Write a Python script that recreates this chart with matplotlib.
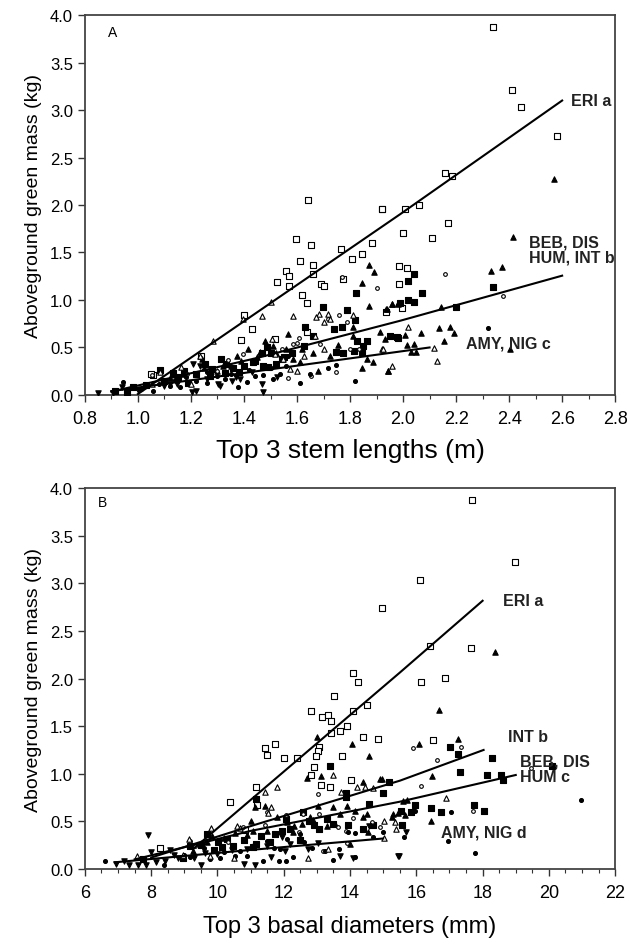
import numpy as np
import matplotlib
matplotlib.use('Agg')
import matplotlib.pyplot as plt
from matplotlib.ticker import MultipleLocator, FormatStrFormatter

plt.rcParams['font.family'] = ['Liberation Sans', 'DejaVu Sans']

# ---- Panel A: top 3 stem lengths (m) vs green mass (kg)
a_osq_x = [1.055, 1.05, 1.236, 1.39, 1.40, 1.43, 1.517, 1.523, 1.559, 1.571, 1.571, 1.596, 1.613, 1.619,
           1.636, 1.639, 1.643, 1.653, 1.659, 1.659, 1.69, 1.70, 1.766, 1.775, 1.806, 1.846, 1.883, 1.92,
           1.936, 1.986, 1.986, 1.995, 1.999, 2.007, 2.014, 1.919, 2.06, 2.11, 2.16, 2.171, 2.186, 2.341,
           2.412, 2.446, 2.582]
a_osq_y = [0.21, 0.22, 0.41, 0.58, 0.84, 0.69, 0.59, 1.19, 1.30, 1.25, 1.15, 1.64, 1.41, 1.05,
           0.66, 0.97, 2.05, 1.58, 1.37, 1.27, 1.17, 1.15, 1.54, 1.22, 1.43, 1.48, 1.60, 1.96,
           0.87, 1.36, 1.17, 0.92, 1.71, 1.96, 1.34, 1.96, 2.0, 1.65, 2.34, 1.81, 2.31, 3.87,
           3.21, 3.03, 2.73]

a_ftri_x = [1.873, 1.891, 1.844, 1.873, 1.938, 1.96, 1.98, 1.913, 1.932, 1.945, 1.846, 1.886, 1.863,
            1.813, 1.813, 1.756, 1.725, 1.68, 1.662, 1.618, 1.567, 1.48, 1.416, 1.24, 1.373, 1.511,
            1.586, 1.46, 1.61, 2.416, 2.33, 2.375, 1.957, 1.98, 1.936, 2.143, 2.137, 2.177, 2.194,
            2.156, 2.066, 2.007, 2.014, 2.043, 2.03, 2.05, 1.944, 2.404, 2.568, 1.12, 1.17, 1.30, 1.35,
            1.25, 1.32, 1.39, 1.45, 1.52, 1.56]
a_ftri_y = [1.368, 1.298, 1.179, 0.933, 0.905, 0.958, 0.965, 0.667, 0.59, 0.256, 0.28, 0.35, 0.379,
            0.719, 0.624, 0.526, 0.414, 0.256, 0.442, 0.484, 0.642, 0.572, 0.484, 0.379, 0.414, 0.519,
            0.379, 0.449, 0.344, 1.66, 1.30, 1.35, 0.96, 0.96, 0.905, 0.93, 0.70, 0.72, 0.65,
            0.57, 0.65, 0.635, 0.53, 0.54, 0.455, 0.455, 0.256, 0.483, 2.27, 0.18, 0.22, 0.25, 0.30,
            0.28, 0.31, 0.36, 0.40, 0.44, 0.48]

a_fsq_x = [1.699, 1.79, 1.821, 1.819, 1.769, 1.741, 1.63, 1.662, 1.626, 1.485, 1.467, 1.50, 1.542,
           1.492, 1.435, 1.332, 1.312, 1.253, 1.175, 1.131, 1.083, 1.747, 1.775, 1.815, 1.85, 1.863,
           1.825, 1.844, 1.98, 0.982, 0.913, 0.957, 2.043, 2.02, 2.073, 2.017, 2.043, 1.988, 2.34,
           2.2, 1.976, 1.95, 1.27, 1.38, 1.10, 1.15, 1.22, 1.28, 1.33, 1.36, 1.40, 1.44, 1.47, 1.52,
           1.55, 1.58, 1.19, 1.03]
a_fsq_y = [0.923, 0.895, 1.07, 0.79, 0.712, 0.695, 0.719, 0.624, 0.519, 0.502, 0.442, 0.44, 0.379,
           0.291, 0.344, 0.326, 0.379, 0.326, 0.256, 0.228, 0.267, 0.449, 0.442, 0.466, 0.519, 0.572,
           0.572, 0.449, 0.60, 0.08, 0.045, 0.035, 1.27, 1.20, 1.07, 1.00, 0.975, 0.97, 1.14,
           0.93, 0.607, 0.62, 0.20, 0.24, 0.15, 0.19, 0.22, 0.27, 0.23, 0.28, 0.30, 0.36, 0.30, 0.33,
           0.40, 0.44, 0.13, 0.10]

a_ocir_x = [1.76, 1.787, 1.903, 1.771, 1.586, 1.60, 1.652, 1.747, 1.567, 1.80, 1.835, 1.395, 1.341,
            1.297, 1.184, 1.052, 1.609, 1.542, 1.687, 1.718, 2.158, 2.378]
a_ocir_y = [0.842, 0.772, 1.123, 1.238, 0.537, 0.55, 0.203, 0.238, 0.179, 0.484, 0.484, 0.428, 0.368,
            0.256, 0.221, 0.21, 0.596, 0.484, 0.537, 0.80, 1.27, 1.04]

a_fcir_x = [1.611, 1.817, 1.716, 1.746, 1.649, 1.536, 1.511, 1.379, 1.41, 1.297, 1.259, 1.181, 1.121,
            0.945, 0.982, 1.159, 1.058, 1.567, 2.322, 1.33, 1.44, 1.22, 1.08, 1.14, 1.26, 1.35, 1.42,
            1.47, 1.50, 1.56, 1.01]
a_fcir_y = [0.123, 0.151, 0.281, 0.316, 0.221, 0.221, 0.168, 0.08, 0.14, 0.203, 0.126, 0.186, 0.098,
            0.14, 0.091, 0.08, 0.045, 0.414, 0.71, 0.17, 0.20, 0.15, 0.12, 0.16, 0.24, 0.22, 0.26,
            0.21, 0.28, 0.30, 0.06]

a_otri_x = [1.501, 1.586, 1.467, 1.398, 1.284, 1.162, 1.083, 1.052, 1.718, 1.684, 1.672, 1.666, 1.702,
            1.725, 1.813, 1.702, 1.599, 1.574, 1.505, 1.517, 1.627, 1.549, 1.234, 1.199, 1.92, 1.96,
            2.017, 2.117, 2.129, 1.925]
a_otri_y = [0.975, 0.828, 0.835, 0.80, 0.572, 0.298, 0.238, 0.116, 0.853, 0.853, 0.818, 0.624, 0.765,
            0.80, 0.842, 0.484, 0.256, 0.274, 0.59, 0.431, 0.414, 0.379, 0.414, 0.116, 0.484, 0.309,
            0.72, 0.495, 0.355, 0.48]

a_dtri_x = [0.85, 0.907, 0.938, 1.473, 1.467, 1.203, 1.219, 1.303, 1.353, 1.209, 1.234, 1.259, 1.098,
            1.146, 1.385, 1.429, 1.523, 1.31, 1.12, 1.27, 1.37, 1.00]
a_dtri_y = [0.02, 0.017, 0.08, 0.035, 0.116, 0.035, 0.045, 0.116, 0.151, 0.326, 0.309, 0.168, 0.098,
            0.116, 0.168, 0.238, 0.186, 0.098, 0.12, 0.21, 0.19, 0.05]

# fitted curves, panel A
a_eri_x = [1.0, 1.99, 2.6]
a_eri_y = [0.01, 1.905, 3.10]
a_beb_x = [0.9, 1.45, 1.99, 2.6]
a_beb_y = [0.035, 0.39, 0.782, 1.256]
a_amy_x = [0.9, 1.5, 2.1]
a_amy_y = [0.04, 0.27, 0.50]

# ---- Panel B: top 3 basal diameters (mm) vs green mass (kg)
b_osq_x = [14.1, 14.25, 13.53, 12.82, 13.16, 13.35, 13.43, 14.1, 14.5, 13.9, 13.70, 14.40, 14.83,
           13.42, 13.06, 13.03, 12.97, 13.77, 11.43, 11.74, 11.5, 12.0, 12.4, 12.92, 12.83, 13.13,
           13.41, 14.03, 11.16, 10.37, 11.2, 8.27, 10.83, 17.69, 18.98, 16.11, 14.96, 16.4, 17.65,
           16.13, 16.87, 16.5]
b_osq_y = [2.055, 1.967, 1.816, 1.656, 1.596, 1.617, 1.558, 1.663, 1.726, 1.498, 1.449, 1.386, 1.365,
           1.428, 1.285, 1.239, 1.183, 1.183, 1.267, 1.316, 1.197, 1.166, 1.166, 1.068, 0.987, 0.882,
           0.858, 0.935, 0.858, 0.707, 0.672, 0.224, 0.406, 3.874, 3.22, 3.04, 2.736, 2.344, 2.32,
           1.967, 2.005, 1.358]

b_ftri_x = [12.99, 14.05, 14.57, 12.69, 13.12, 14.4, 14.96, 11.13, 11.43, 11.0, 10.53, 11.79, 12.09,
            13.04, 13.5, 13.9, 14.15, 14.4, 14.5, 13.55, 12.89, 12.54, 12.29, 13.3, 14.0, 14.54,
            15.31, 9.67, 9.27, 9.82, 11.08, 18.38, 16.67, 17.27, 16.09, 16.47, 16.45, 14.9, 15.73,
            15.61, 15.66, 15.46, 15.26, 10.2, 10.9, 11.5, 12.3, 12.8, 13.7]
b_ftri_y = [1.383, 1.313, 1.19, 0.952, 0.973, 0.917, 0.945, 0.648, 0.658, 0.501, 0.378, 0.543, 0.49,
            0.665, 0.648, 0.665, 0.613, 0.543, 0.578, 0.473, 0.518, 0.473, 0.392, 0.455, 0.263, 0.385,
            0.578, 0.28, 0.193, 0.35, 0.403, 2.28, 1.67, 1.365, 1.313, 0.973, 0.50, 0.945, 0.728,
            0.718, 0.567, 0.588, 0.543, 0.33, 0.36, 0.40, 0.45, 0.55, 0.58]

b_fsq_x = [9.69, 10.03, 11.16, 11.94, 12.06, 12.59, 12.77, 13.4, 13.87, 13.88, 14.58, 14.99, 15.19,
           13.07, 13.5, 13.95, 14.4, 14.7, 11.08, 10.48, 10.13, 11.59, 11.74, 12.49, 9.17, 8.97,
           7.76, 11.15, 17.02, 17.27, 18.28, 17.32, 18.13, 18.56, 18.63, 20.09, 17.75, 18.03, 16.44,
           16.74, 15.96, 15.83, 15.53, 15.56, 9.5, 10.3, 10.8, 11.3, 12.2, 12.9, 13.3, 9.9]
b_fsq_y = [0.364, 0.287, 0.263, 0.403, 0.525, 0.595, 0.508, 1.085, 0.798, 0.753, 0.683, 0.798, 0.91,
           0.42, 0.473, 0.462, 0.42, 0.462, 0.228, 0.245, 0.228, 0.287, 0.364, 0.308, 0.245, 0.112,
           0.105, 0.735, 1.285, 1.208, 1.162, 1.015, 0.987, 0.987, 0.938, 1.085, 0.676, 0.613, 0.637,
           0.595, 0.676, 0.595, 0.613, 0.462, 0.25, 0.32, 0.30, 0.35, 0.42, 0.46, 0.52, 0.20]

b_ocir_x = [9.17, 13.02, 13.65, 13.88, 13.06, 13.18, 13.9, 12.07, 11.43, 10.78, 11.49, 12.59, 14.65,
            14.91, 9.32, 10.33, 12.47, 14.1, 15.91, 17.34, 16.62, 16.13, 19.45, 17.72]
b_ocir_y = [0.298, 0.788, 0.438, 0.403, 0.578, 0.193, 0.273, 0.567, 0.466, 0.438, 0.595, 0.578, 0.49,
            0.438, 0.245, 0.28, 0.392, 0.532, 1.267, 1.285, 1.145, 0.868, 1.057, 0.606]

b_fcir_x = [6.6, 8.39, 9.17, 10.08, 10.53, 11.38, 11.87, 12.07, 12.29, 13.48, 13.68, 13.95, 14.15,
            14.99, 11.89, 12.84, 12.09, 12.49, 11.48, 10.68, 9.77, 10.88, 13.25, 14.15, 14.68, 20.97,
            17.05, 16.97, 17.77, 15.96, 15.63, 9.0, 9.6, 10.2, 11.1, 11.7, 12.6]
b_fcir_y = [0.081, 0.042, 0.123, 0.112, 0.133, 0.088, 0.088, 0.088, 0.123, 0.098, 0.21, 0.392, 0.378,
            0.392, 0.21, 0.217, 0.315, 0.368, 0.298, 0.193, 0.105, 0.14, 0.193, 0.123, 0.333, 0.725,
            0.602, 0.29, 0.165, 0.613, 0.34, 0.15, 0.22, 0.18, 0.25, 0.22, 0.28]

b_otri_x = [9.79, 11.43, 11.81, 13.5, 14.2, 14.45, 14.7, 13.72, 11.61, 11.53, 10.58, 10.68, 9.15,
            7.56, 8.97, 9.77, 10.5, 12.74, 13.35, 15.39, 15.03, 16.9, 15.36, 15.03]
b_otri_y = [0.43, 0.812, 0.858, 0.987, 0.865, 0.865, 0.847, 0.812, 0.648, 0.588, 0.455, 0.43, 0.315,
            0.14, 0.147, 0.14, 0.112, 0.112, 0.21, 0.42, 0.508, 0.742, 0.49, 0.322]

b_dtri_x = [7.91, 7.99, 8.57, 9.49, 10.8, 11.13, 11.62, 6.93, 7.34, 7.59, 7.83, 7.19, 8.13, 8.42,
            11.94, 12.04, 12.74, 13.7, 14.1, 15.46, 10.43, 10.88, 11.48, 12.19, 13.04, 14.58, 9.62,
            8.82, 15.49, 15.69, 8.7, 9.3, 10.0]
b_dtri_y = [0.361, 0.175, 0.203, 0.042, 0.053, 0.042, 0.123, 0.053, 0.042, 0.042, 0.042, 0.088, 0.077,
            0.088, 0.333, 0.193, 0.21, 0.133, 0.112, 0.133, 0.203, 0.21, 0.238, 0.263, 0.273, 0.448,
            0.168, 0.112, 0.133, 0.385, 0.15, 0.12, 0.16]

# fitted curves, panel B
b_eri_x = [9.3, 15.51, 18.0]
b_eri_y = [0.22, 2.065, 2.817]
b_int_x = [8.0, 11.0, 15.51, 18.03]
b_int_y = [0.12, 0.45, 0.928, 1.25]
b_hum_x = [7.5, 11.0, 15.51, 19.0]
b_hum_y = [0.10, 0.40, 0.707, 0.987]
b_amy_x = [6.9, 11.0, 15.0]
b_amy_y = [0.07, 0.20, 0.32]

fig = plt.figure(figsize=(6.29, 9.45), dpi=100)
axA = fig.add_axes([0.135, 0.581, 0.843, 0.402])
axB = fig.add_axes([0.135, 0.0794, 0.843, 0.403])


def scatter_groups(ax, groups):
    for x, y, m, fc, s in groups:
        ax.scatter(x, y, marker=m, s=s, facecolors=fc, edgecolors='black', linewidths=0.8, zorder=3)


scatter_groups(axA, [
    (a_osq_x, a_osq_y, 's', 'white', 13),
    (a_ftri_x, a_ftri_y, '^', 'black', 15),
    (a_fsq_x, a_fsq_y, 's', 'black', 13),
    (a_ocir_x, a_ocir_y, 'o', 'white', 7),
    (a_fcir_x, a_fcir_y, 'o', 'black', 8),
    (a_otri_x, a_otri_y, '^', 'white', 15),
    (a_dtri_x, a_dtri_y, 'v', 'black', 15),
])
scatter_groups(axB, [
    (b_osq_x, b_osq_y, 's', 'white', 13),
    (b_ftri_x, b_ftri_y, '^', 'black', 15),
    (b_fsq_x, b_fsq_y, 's', 'black', 13),
    (b_ocir_x, b_ocir_y, 'o', 'white', 7),
    (b_fcir_x, b_fcir_y, 'o', 'black', 8),
    (b_otri_x, b_otri_y, '^', 'white', 15),
    (b_dtri_x, b_dtri_y, 'v', 'black', 15),
])

for x, y in [(a_eri_x, a_eri_y), (a_beb_x, a_beb_y), (a_amy_x, a_amy_y)]:
    axA.plot(x, y, color='black', lw=1.5, zorder=4)
for x, y in [(b_eri_x, b_eri_y), (b_int_x, b_int_y), (b_hum_x, b_hum_y), (b_amy_x, b_amy_y)]:
    axB.plot(x, y, color='black', lw=1.5, zorder=4)

lab = dict(fontsize=11.5, fontweight='bold', color='#222222', va='center', ha='left')
axA.text(2.633, 3.10, 'ERI a', **lab)
axA.text(2.475, 1.53, 'BEB, DIS\nHUM, INT b', linespacing=1.05, **lab)
axA.text(2.238, 0.547, 'AMY, NIG c', **lab)
axB.text(18.61, 2.817, 'ERI a', **lab)
axB.text(18.78, 1.393, 'INT b', **lab)
axB.text(19.13, 1.053, 'BEB, DIS\nHUM c', linespacing=1.0, **lab)
axB.text(16.75, 0.392, 'AMY, NIG d', **lab)

axA.text(0.043, 0.955, 'A', transform=axA.transAxes, fontsize=10, va='center')
axB.text(0.025, 0.963, 'B', transform=axB.transAxes, fontsize=10, va='center')

axA.set_xlim(0.8, 2.8)
axA.xaxis.set_major_locator(MultipleLocator(0.2))
axA.xaxis.set_minor_locator(MultipleLocator(0.1))
axA.xaxis.set_major_formatter(FormatStrFormatter('%.1f'))
axA.set_xlabel('Top 3 stem lengths (m)', fontsize=19, labelpad=8)

axB.set_xlim(6, 22)
axB.xaxis.set_major_locator(MultipleLocator(2))
axB.xaxis.set_minor_locator(MultipleLocator(0.5))
axB.set_xlabel('Top 3 basal diameters (mm)', fontsize=17, labelpad=10)

for ax in (axA, axB):
    ax.set_ylim(0, 4.0)
    ax.yaxis.set_major_locator(MultipleLocator(0.5))
    ax.yaxis.set_major_formatter(FormatStrFormatter('%.1f'))
    ax.set_ylabel('Aboveground green mass (kg)', fontsize=14, labelpad=6)
    ax.tick_params(which='major', direction='out', length=5, width=1, color='#333333')
    ax.tick_params(axis='x', which='major', labelsize=13, pad=6)
    ax.tick_params(axis='y', which='major', labelsize=12)
    ax.tick_params(which='minor', direction='out', length=3, width=0.8, color='#333333')
    for sp in ax.spines.values():
        sp.set_color('#444444')
        sp.set_linewidth(1.3)

fig.savefig('out.png', dpi=100)
